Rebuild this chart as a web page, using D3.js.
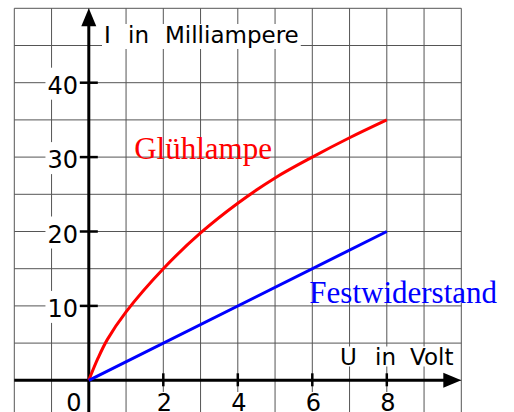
<!DOCTYPE html>
<html>
<head>
<meta charset="utf-8">
<script src="https://cdn.jsdelivr.net/npm/d3@7"></script>
<style>
  body { margin: 0; background: #fff; }
  svg { display: block; }
</style>
</head>
<body>
<div id="chart"></div>
<script>
// U in Volt / I in Milliampere
const lampU = [0, 0.25, 0.5, 1, 2, 3, 4, 5, 6, 7, 8];
const lampI = [0, 3.0, 5.5, 9.2, 15, 19.8, 23.8, 27.2, 30, 32.6, 35];
const resU = [0, 8];
const resI = [0, 20];

const xTicks = [0, 2, 4, 6, 8];
const yTicks = [10, 20, 30, 40];

const width = 514, height = 412;

const x = d3.scaleLinear().domain([-2, 10]).range([14.3, 461.3]);
const y = d3.scaleLinear().domain([0, 50]).range([380.3, 8.3]);

const svg = d3.select("#chart").append("svg")
    .attr("width", width)
    .attr("height", height);

// grid
const grid = svg.append("g").attr("stroke", "#555").attr("stroke-width", 1);
d3.range(-2, 11).forEach(function(u) {
    grid.append("line")
        .attr("x1", x(u)).attr("x2", x(u))
        .attr("y1", y(50)).attr("y2", height + 10);
});
d3.range(-5, 55, 5).forEach(function(i) {
    grid.append("line")
        .attr("x1", x(-2)).attr("x2", x(10))
        .attr("y1", y(i)).attr("y2", y(i));
});

const boxes = svg.append("g");
const axes = svg.append("g");
const labels = svg.append("g")
    .attr("font-family", "'DejaVu Sans', Verdana, sans-serif")
    .attr("fill", "#000");

// white box behind a group of texts
function backBox(nodes, padX, top, bottom) {
    let x0 = Infinity, y0 = Infinity, x1 = -Infinity, y1 = -Infinity;
    nodes.forEach(function(n) {
        const b = n.getBBox();
        x0 = Math.min(x0, b.x); y0 = Math.min(y0, b.y);
        x1 = Math.max(x1, b.x + b.width); y1 = Math.max(y1, b.y + b.height);
    });
    boxes.append("rect")
        .attr("x", x0 - padX)
        .attr("y", y0 + top)
        .attr("width", x1 - x0 + 2 * padX)
        .attr("height", y1 - y0 - top + bottom)
        .attr("fill", "#fff");
}

// axis titles
const yTitle = [["I", 104], ["in", 128], ["Milliampere", 165]];
backBox(yTitle.map(function(p) {
    return labels.append("text")
        .attr("x", p[1]).attr("y", 43)
        .attr("font-size", "23px")
        .text(p[0]).node();
}), 2, 2, 1);

const xTitle = [["U", 340], ["in", 375], ["Volt", 410]];
backBox(xTitle.map(function(p) {
    return labels.append("text")
        .attr("x", p[1]).attr("y", 364.5)
        .attr("font-size", "23px")
        .text(p[0]).node();
}), 2, 3, -3);

// tick labels
yTicks.forEach(function(v) {
    const t = labels.append("text")
        .attr("x", 78).attr("y", y(v) + 11)
        .attr("text-anchor", "end")
        .attr("font-size", "24px")
        .text(v);
    backBox([t.node()], 2, -4, 0);
});
xTicks.forEach(function(v) {
    const t = labels.append("text")
        .attr("x", v === 0 ? x(v) - 15 : x(v) + 1).attr("y", 411)
        .attr("text-anchor", "middle")
        .attr("font-size", "24px")
        .text(v);
    backBox([t.node()], 2, 3, 0);
});

// axes
axes.append("line")
    .attr("x1", x(-2)).attr("x2", x(10) - 16)
    .attr("y1", y(0)).attr("y2", y(0))
    .attr("stroke", "#000").attr("stroke-width", 3);
axes.append("path")
    .attr("d", "M" + x(10) + "," + y(0) + "L" + (x(10) - 18) + "," + (y(0) - 7.5) + "L" + (x(10) - 18) + "," + (y(0) + 7.5) + "Z")
    .attr("fill", "#000");
axes.append("line")
    .attr("x1", x(0)).attr("x2", x(0))
    .attr("y1", height + 10).attr("y2", y(50) + 16)
    .attr("stroke", "#000").attr("stroke-width", 3);
axes.append("path")
    .attr("d", "M" + x(0) + "," + y(50) + "L" + (x(0) - 7.5) + "," + (y(50) + 18) + "L" + (x(0) + 7.5) + "," + (y(50) + 18) + "Z")
    .attr("fill", "#000");

xTicks.filter(function(v) { return v !== 0; }).forEach(function(v) {
    axes.append("line")
        .attr("x1", x(v)).attr("x2", x(v))
        .attr("y1", y(0) - 7).attr("y2", y(0) + 6)
        .attr("stroke", "#000").attr("stroke-width", 2.5);
});
yTicks.forEach(function(v) {
    axes.append("line")
        .attr("x1", x(0) - 9).attr("x2", x(0) + 9)
        .attr("y1", y(v)).attr("y2", y(v))
        .attr("stroke", "#000").attr("stroke-width", 2.5);
});

// curves
const line = d3.line()
    .x(function(d) { return x(d[0]); })
    .y(function(d) { return y(d[1]); })
    .curve(d3.curveCatmullRom.alpha(0.5));

svg.append("path")
    .datum(d3.zip(lampU, lampI))
    .attr("d", line)
    .attr("fill", "none")
    .attr("stroke", "#ff0000")
    .attr("stroke-width", 3);

svg.append("path")
    .datum(d3.zip(resU, resI))
    .attr("d", line)
    .attr("fill", "none")
    .attr("stroke", "#0000ff")
    .attr("stroke-width", 3);

// curve names
svg.append("text")
    .attr("x", x(1.22)).attr("y", y(29.8))
    .attr("font-family", "'Liberation Serif', 'Times New Roman', serif")
    .attr("font-size", "31px")
    .attr("fill", "#ff0000")
    .text("Glühlampe");

svg.append("text")
    .attr("x", x(5.92)).attr("y", y(10.35))
    .attr("font-family", "'Liberation Serif', 'Times New Roman', serif")
    .attr("font-size", "31px")
    .attr("fill", "#0000ff")
    .text("Festwiderstand");
</script>
</body>
</html>
